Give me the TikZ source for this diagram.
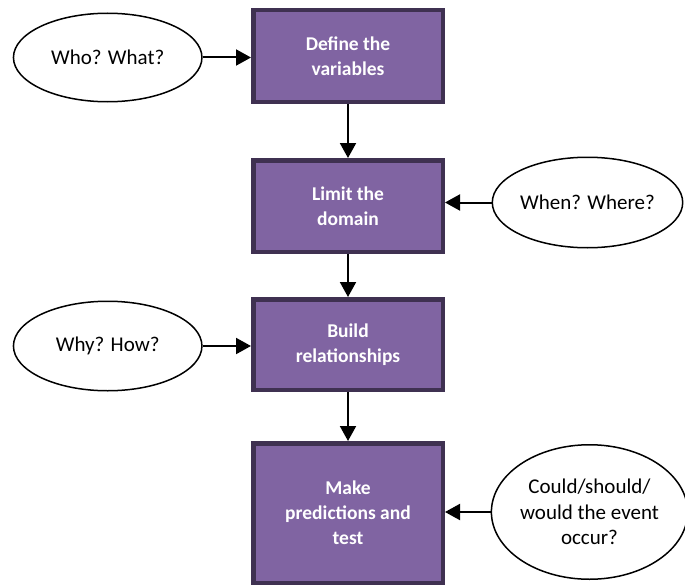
\documentclass[tikz,border=0pt]{standalone}
\usepackage{fontspec}
\setmainfont{Carlito}
\usetikzlibrary{shapes.geometric,arrows.meta}

\definecolor{stepfill}{HTML}{8064A2}
\definecolor{stepline}{HTML}{3F3151}

\tikzset{
  stepbox/.style={draw=stepline, fill=stepfill, line width=4.5pt,
    inner sep=0pt, minimum width=189.5pt, align=center,
    text=white, font=\fontsize{19.5}{25}\selectfont\bfseries},
  question/.style={ellipse, draw=black, line width=1.5pt, inner sep=0pt,
    align=center, font=\fontsize{21}{25.5}\selectfont},
  flow/.style={line width=2pt, -{Triangle[length=15pt,width=16pt]}},
}

\begin{document}
\begin{tikzpicture}[x=1pt, y=-1pt]
\useasboundingbox (0,0) rectangle (685,586);

% main sequence of steps
\node[stepbox, minimum height=91.5pt]  (b1) at (348,56)    {Define the\\variables};
\node[stepbox, minimum height=91.5pt]  (b2) at (348,206)   {Limit the\\domain};
\node[stepbox, minimum height=90.5pt]  (b3) at (348,344.5) {Build\\relationships};
\node[stepbox, minimum height=139.5pt] (b4) at (348,513)   {Make\\predictions and\\test};

% guiding questions
\node[question, minimum width=188.5pt, minimum height=88.5pt] (q1) at (107.7,57.5)  {Who? What?};
\node[question, minimum width=187.5pt, minimum height=90.5pt] (q2) at (587.5,202.5) {When? Where?};
\node[question, minimum width=188.5pt, minimum height=89.5pt] (q3) at (107.7,346)   {Why? How?};
\node[question, minimum width=191pt,   minimum height=134.5pt] (q4) at (589.5,512)  {Could/should/\\would the event\\occur?};

% step-to-step arrows
\draw[flow] (b1.south) -- (b2.north);
\draw[flow] (b2.south) -- (b3.north);
\draw[flow] (b3.south) -- (b4.north);

% question-to-step arrows
\draw[flow] (q1.east) -- (q1.east -| b1.west);
\draw[flow] (q2.west) -- (q2.west -| b2.east);
\draw[flow] (q3.east) -- (q3.east -| b3.west);
\draw[flow] (q4.west) -- (q4.west -| b4.east);
\end{tikzpicture}
\end{document}
